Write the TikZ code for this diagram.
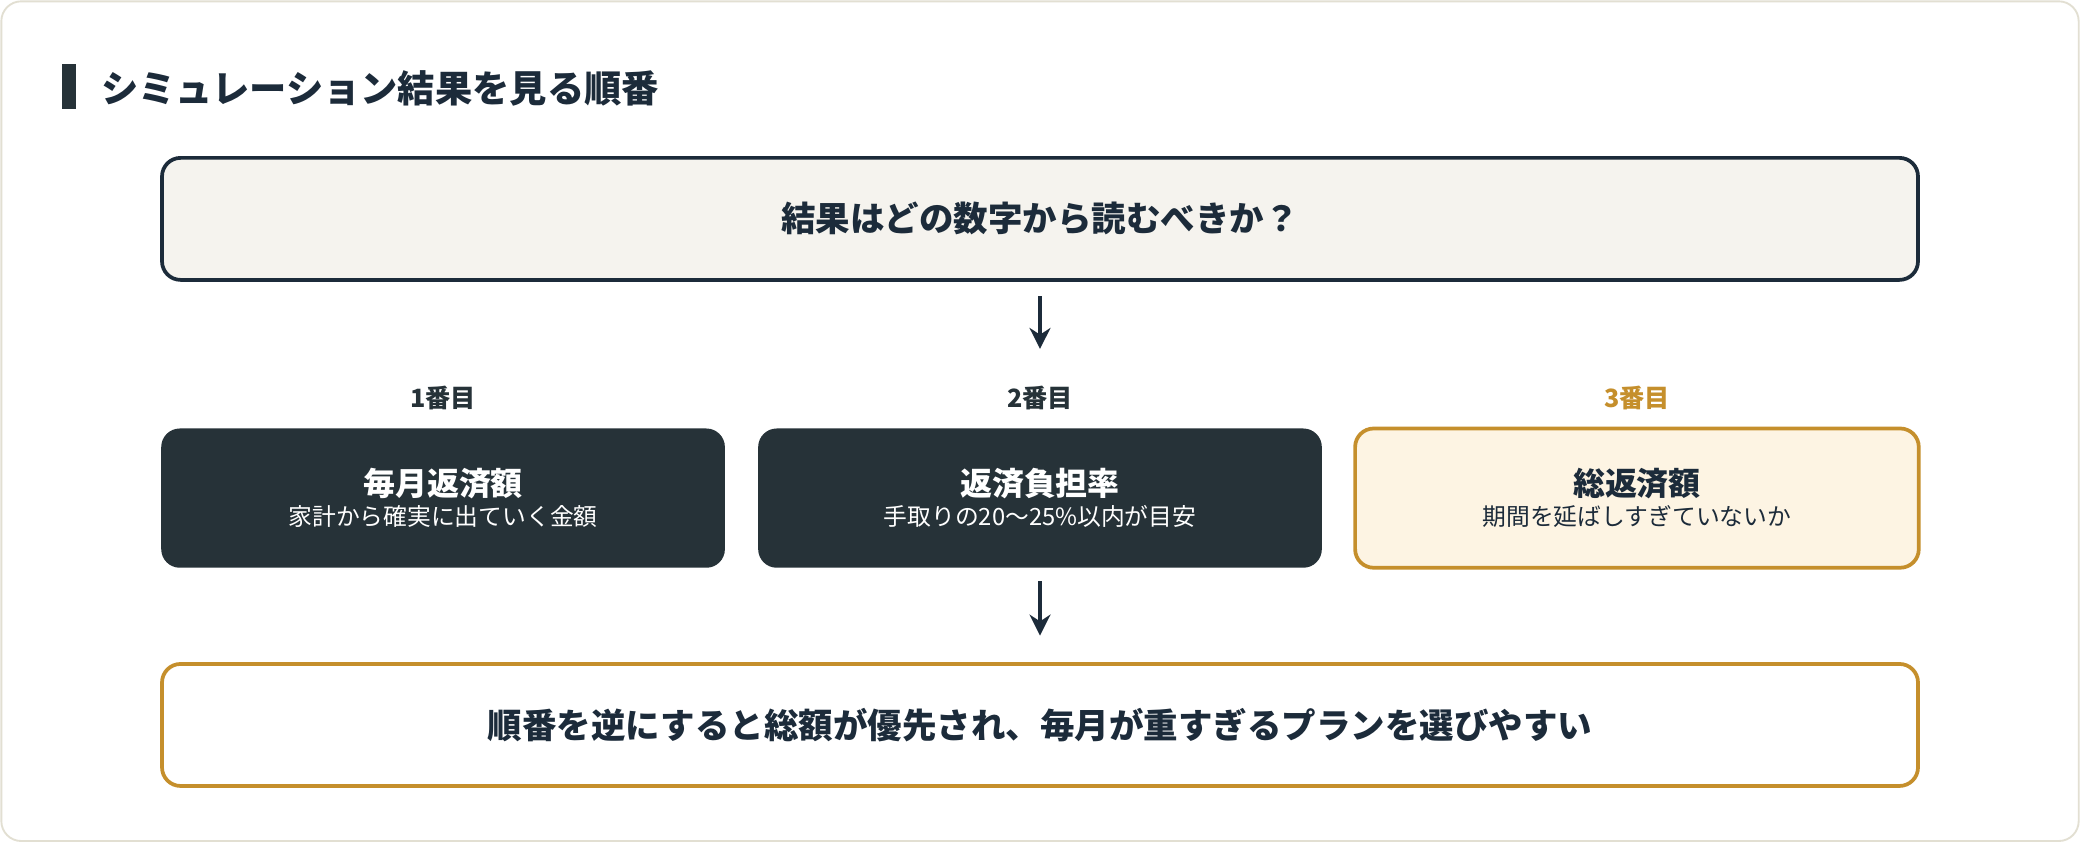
\documentclass[tikz,border=0pt]{standalone}
\usepackage{fontspec}
\setmainfont{Noto Sans CJK JP}
\usetikzlibrary{positioning,arrows.meta}
\definecolor{navy}{HTML}{1C2B3A}
\definecolor{slate}{HTML}{263238}
\definecolor{gold}{HTML}{C58F2C}
\definecolor{cream}{HTML}{FDF4E3}
\definecolor{paper}{HTML}{F5F3EE}
\definecolor{frame}{HTML}{E2DFD2}
\begin{document}
\begin{tikzpicture}[x=0.02cm,y=-0.02cm,
    box/.style={draw=navy,line width=1.6pt,rounded corners=0.28cm,minimum height=1.84cm,align=center,font=\bfseries\fontsize{14.8}{18}\selectfont,text=navy},
    stage/.style={rounded corners=0.28cm,minimum width=8.5cm,minimum height=2.1cm,align=center,inner sep=0pt},
    rank/.style={font=\bfseries\fontsize{10.8}{13}\selectfont,text=slate},
    flow/.style={-{Stealth[length=9pt,width=9pt]},line width=1.4pt,draw=navy}]
    \draw[frame,fill=white,line width=0.8pt,rounded corners=0.3cm] (1,1) rectangle (1567,634);
    \useasboundingbox (0,0) rectangle (1568,635);
    \fill[slate] (47,48) rectangle (57,82);
    \node[anchor=west,text=navy,font=\bfseries\fontsize{16}{19}\selectfont] (title) at (70,67) {シミュレーション結果を見る順番};
    \node[box,fill=paper,minimum width=26.48cm] (question) at (784,165) {結果はどの数字から読むべきか？};
    \node[rank] (r1) at (334,300) {1番目};
    \node[rank] (r2) at (784,300) {2番目};
    \node[rank,text=gold] (r3) at (1234,300) {3番目};
    \node[stage,fill=slate,text=white] (monthly) at (334,375.5) {{\bfseries\fontsize{13.7}{17}\selectfont 毎月返済額}\\[1pt]{\fontsize{10.2}{13}\selectfont 家計から確実に出ていく金額}};
    \node[stage,fill=slate,text=white] (ratio) at (784,375.5) {{\bfseries\fontsize{13.7}{17}\selectfont 返済負担率}\\[1pt]{\fontsize{10.2}{13}\selectfont 手取りの20〜25\%以内が目安}};
    \node[stage,fill=cream,draw=gold,line width=1.6pt,text=navy] (total) at (1234,375.5) {{\bfseries\fontsize{13.7}{17}\selectfont 総返済額}\\[1pt]{\fontsize{10.2}{13}\selectfont 期間を延ばしすぎていないか}};
    \node[box,draw=gold,fill=white,minimum width=26.48cm] (warning) at (784,546.5) {順番を逆にすると総額が優先され、毎月が重すぎるプランを選びやすい};
    \coordinate (mid) at (784,263);
    \draw[flow,shorten <=0.22cm] (question.south) -- (mid);
    \draw[flow,shorten <=0.2cm,shorten >=0.4cm] (ratio.south) -- (warning.north);
\end{tikzpicture}
\end{document}
